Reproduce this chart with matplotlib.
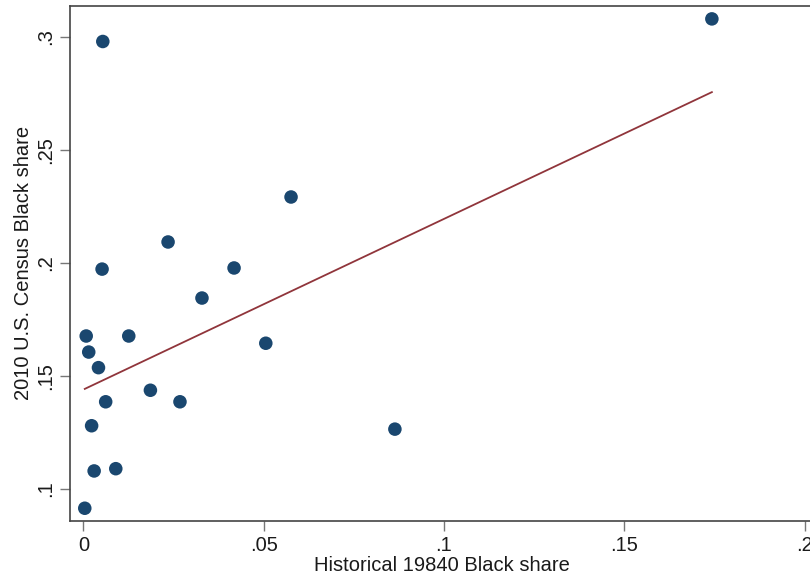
import numpy as np
import matplotlib.pyplot as plt

plt.rcParams['font.family'] = ['Liberation Sans', 'DejaVu Sans']

# historical 1840 share vs 2010 census share
hist_share = [0.1743, 0.0054, 0.0576, 0.0235, 0.0052, 0.0418, 0.0329, 0.0008, 0.0126, 0.0015,
              0.0042, 0.0506, 0.0186, 0.0062, 0.0268, 0.0023, 0.0030, 0.0090, 0.0004, 0.0864]
census_share = [0.308, 0.298, 0.2292, 0.2093, 0.1973, 0.1978, 0.1845, 0.1677, 0.1677, 0.1606,
                0.1537, 0.1645, 0.1437, 0.1386, 0.1386, 0.128, 0.108, 0.109, 0.0915, 0.1265]

# fitted line
fit_intercept = 0.1440
fit_slope = 0.755

xticks = [0, 0.05, 0.1, 0.15, 0.2]
xticklabels = ['0', '.05', '.1', '.15', '.2']
yticks = [0.1, 0.15, 0.2, 0.25, 0.3]
yticklabels = ['.1', '.15', '.2', '.25', '.3']

x = np.array(hist_share)
y = np.array(census_share)
xfit = np.array([x.min(), x.max()])

fig = plt.figure(figsize=(8.1, 5.83), dpi=100)
ax = fig.add_axes([0.0864, 0.1069, 0.918, 0.8828])

ax.plot(xfit, fit_intercept + fit_slope * xfit, color='#90353b', linewidth=1.3, zorder=2)
ax.scatter(x, y, s=95, color='#1a476f', edgecolors='none', zorder=3)

ax.set_xlim(-0.0037, 0.2025)
ax.set_ylim(0.086, 0.3137)
ax.set_xticks(xticks)
ax.set_xticklabels(xticklabels)
ax.set_yticks(yticks)
ax.set_yticklabels(yticklabels, rotation=90, va='center')

for side in ['left', 'bottom', 'top', 'right']:
    ax.spines[side].set_color('#444444')
    ax.spines[side].set_linewidth(1.2)

ax.tick_params(direction='out', length=7, width=1, color='#777777', labelsize=14.5,
               labelcolor='#1a1a1a', pad=4)
ax.set_xlabel("Historical 19840 Black share", fontsize=14.5, color='#1a1a1a', labelpad=1)
ax.set_ylabel("2010 U.S. Census Black share", fontsize=14.5, color='#1a1a1a', labelpad=2)

plt.savefig("out.png", dpi=100)
